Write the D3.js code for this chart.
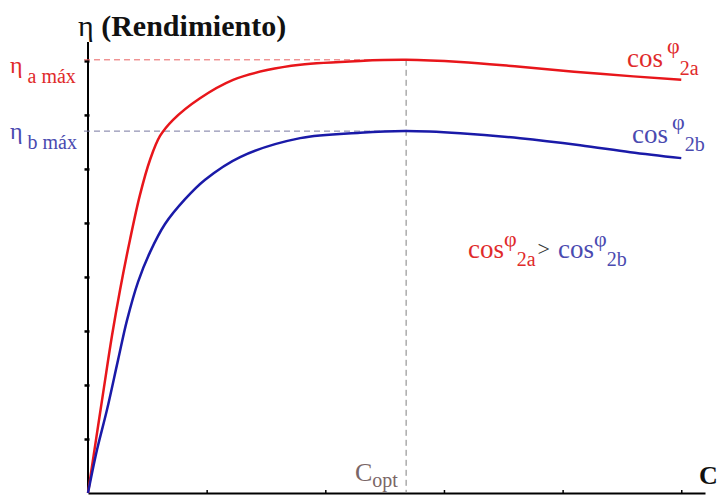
<!DOCTYPE html>
<html>
<head>
<meta charset="utf-8">
<script src="https://cdn.jsdelivr.net/npm/d3@7"></script>
<style>
  body { margin: 0; background: #fff; }
  svg { font-family: "Liberation Serif", "DejaVu Serif", serif; }
</style>
</head>
<body>
<svg width="719" height="495"></svg>
<script>
// load in tick units (x) and efficiency in tick units (y)
const loadA = [0, 0.067, 0.135, 0.202, 0.270, 0.354, 0.438, 0.523, 0.607, 0.717, 0.944, 1.223, 1.509, 1.788, 2.293, 2.681, 3.137, 3.642, 4.317, 5.0];
const etaA  = [0, 0.98, 1.96, 2.91, 3.76, 4.69, 5.52, 6.17, 6.61, 6.91, 7.31, 7.65, 7.83, 7.93, 8.00, 8.02, 7.98, 7.89, 7.76, 7.65];

const loadB = [0, 0.076, 0.160, 0.253, 0.329, 0.422, 0.523, 0.649, 0.818, 0.987, 1.282, 1.788, 2.293, 2.681, 3.137, 3.642, 4.148, 4.570, 5.0];
const etaB  = [0, 0.80, 1.54, 2.46, 3.20, 3.91, 4.46, 4.98, 5.44, 5.80, 6.22, 6.57, 6.67, 6.70, 6.66, 6.57, 6.44, 6.31, 6.20];

const cOpt = 2.681;
const etaAmax = 8.02;
const etaBmax = 6.70;
const xTicks = [1, 2, 3, 4, 5];
const yTicks = [1, 2, 3, 4, 5, 6, 7, 8];

const svg = d3.select('svg');

const x = d3.scaleLinear().domain([0, 5.2]).range([88, 705]);
const y = d3.scaleLinear().domain([0, 8.35]).range([493, 42]);

const red = '#e8161b';
const blue = '#1a1aa8';
const redText = '#e02a2a';
const blueText = '#4a4ab0';

// axes
svg.append('g')
    .attr('transform', `translate(0,${y(0)})`)
    .call(d3.axisBottom(x).tickValues(xTicks).tickSize(-3).tickSizeOuter(0).tickFormat(''))
    .call(g => g.select('.domain').attr('stroke-width', 2))
    .call(g => g.selectAll('.tick line').attr('stroke-width', 1.5));

svg.append('g')
    .attr('transform', `translate(${x(0) + 1.5},0)`)
    .call(d3.axisLeft(y).tickValues(yTicks).tickSize(5).tickSizeOuter(0).tickFormat(''))
    .call(g => g.select('.domain').attr('stroke-width', 0))
    .call(g => g.selectAll('.tick line').attr('stroke-width', 2.5));
svg.append('line')
    .attr('x1', x(0)).attr('x2', x(0)).attr('y1', y(8.35)).attr('y2', y(0))
    .attr('stroke', '#000').attr('stroke-width', 2);

// reference lines
svg.append('line')
    .attr('x1', x(0) - 4).attr('x2', x(cOpt))
    .attr('y1', y(etaAmax)).attr('y2', y(etaAmax))
    .attr('stroke', '#e86060').attr('stroke-width', 1).attr('stroke-dasharray', '6,4');
svg.append('line')
    .attr('x1', x(0) - 4).attr('x2', x(cOpt))
    .attr('y1', y(etaBmax)).attr('y2', y(etaBmax))
    .attr('stroke', '#7878a0').attr('stroke-width', 1).attr('stroke-dasharray', '6,4');
svg.append('line')
    .attr('x1', x(cOpt)).attr('x2', x(cOpt))
    .attr('y1', y(etaAmax)).attr('y2', y(0))
    .attr('stroke', '#808080').attr('stroke-width', 1).attr('stroke-dasharray', '6,4');

// curves
const line = d3.line()
    .x(d => x(d[0]))
    .y(d => y(d[1]))
    .curve(d3.curveCatmullRom.alpha(0.5));

svg.append('path')
    .attr('d', line(d3.zip(loadA, etaA)))
    .attr('fill', 'none').attr('stroke', red).attr('stroke-width', 2.5);
svg.append('path')
    .attr('d', line(d3.zip(loadB, etaB)))
    .attr('fill', 'none').attr('stroke', blue).attr('stroke-width', 2.5);

// title
const title = svg.append('text').attr('x', 78).attr('y', 36).attr('font-size', 30).attr('fill', '#111');
title.append('tspan').text('η ');
title.append('tspan').attr('font-weight', 'bold').text('(Rendimiento)');

// eta max labels
function etaLabel(sub, yy, color) {
    const t = svg.append('text').attr('x', 10).attr('y', yy).attr('fill', color);
    t.append('tspan').attr('font-size', 24).text('η');
    t.append('tspan').attr('font-size', 20).attr('dx', 5).attr('dy', 10).text(sub);
}
etaLabel('a máx', 73, redText);
etaLabel('b máx', 139, blueText);

// cos phi labels
function cosLabel(t, sub, color) {
    t.append('tspan').attr('fill', color).text('cos');
    t.append('tspan').attr('fill', color).attr('dx', 4).attr('dy', -14).attr('font-size', 22).text('φ');
    t.append('tspan').attr('fill', color).attr('dy', 22).attr('font-size', 20).text(sub);
}
cosLabel(svg.append('text').attr('x', 627).attr('y', 67).attr('font-size', 27), '2a', redText);
cosLabel(svg.append('text').attr('x', 632).attr('y', 143).attr('font-size', 27), '2b', blueText);

const ineq = svg.append('text').attr('x', 468).attr('y', 258).attr('font-size', 27);
ineq.append('tspan').attr('fill', redText).text('cos');
ineq.append('tspan').attr('fill', redText).attr('dy', -12).attr('font-size', 22).text('φ');
ineq.append('tspan').attr('fill', redText).attr('dy', 20).attr('font-size', 20).text('2a');
ineq.append('tspan').attr('fill', '#333').attr('dx', 2).attr('dy', -10).attr('font-size', 22).text('>');
ineq.append('tspan').attr('fill', blueText).attr('dx', 8).attr('dy', 2).text('cos');
ineq.append('tspan').attr('fill', blueText).attr('dy', -12).attr('font-size', 22).text('φ');
ineq.append('tspan').attr('fill', blueText).attr('dy', 20).attr('font-size', 20).text('2b');

// Copt label
const copt = svg.append('text').attr('x', 355).attr('y', 481).attr('fill', '#7a6666').attr('font-size', 26);
copt.append('tspan').text('C');
copt.append('tspan').attr('font-size', 20).attr('dy', 6).text('opt');

// x axis label
svg.append('text').attr('x', 699).attr('y', 484)
    .attr('font-size', 26).attr('font-weight', 'bold').attr('fill', '#111').text('C');
</script>
</body>
</html>
